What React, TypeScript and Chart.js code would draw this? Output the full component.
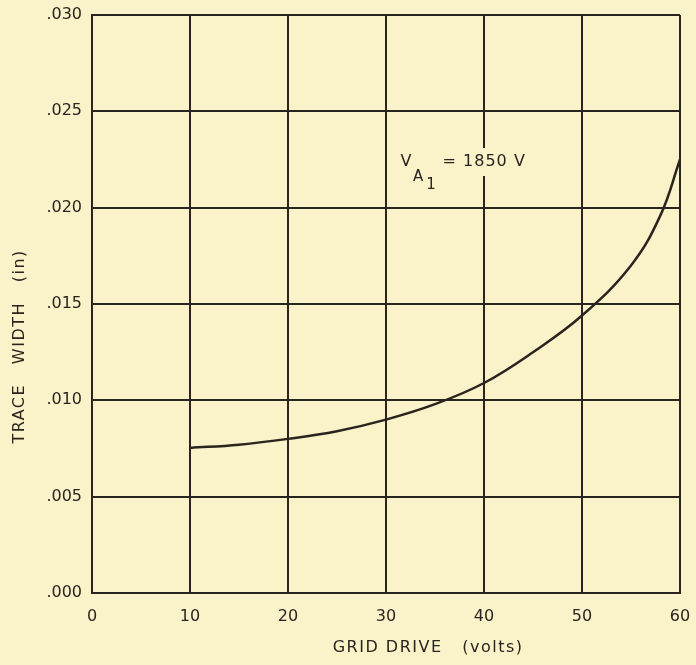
import React, { useEffect, useRef } from "react";
import { Chart, registerables } from "chart.js";

Chart.register(...registerables);

const gridDrive = [10, 15, 20, 25, 30, 35, 40, 45, 50, 55, 58, 60];
const traceWidth = [0.00753, 0.0077, 0.008, 0.0084, 0.009, 0.0098, 0.0109, 0.0125, 0.0144, 0.017, 0.0196, 0.0225];
const xTicks = [0, 10, 20, 30, 40, 50, 60];
const yTicks = [0, 0.005, 0.01, 0.015, 0.02, 0.025, 0.03];
const xTitle = "GRID DRIVE   (volts)";
const yTitle = "TRACE   WIDTH   (in)";
const noteMain = "V";
const noteSubA = "A";
const noteSub1 = "1";
const noteRest = "= 1850 V";

const BG = "#faf2c9";
const INK = "#2a241f";
const FONT = '"DejaVu Sans", sans-serif';

export default function App() {
  const ref = useRef<HTMLCanvasElement | null>(null);

  useEffect(() => {
    document.body.style.margin = "0";
    document.body.style.background = BG;
    const canvas = ref.current!;
    const textPlugin = {
      id: "texts",
      beforeDraw(chart: any) {
        const c = chart.ctx;
        c.save();
        c.fillStyle = BG;
        c.fillRect(0, 0, chart.width, chart.height);
        c.restore();
      },
      afterDraw(chart: any) {
        const c = chart.ctx;
        const xs = chart.scales.x;
        const ys = chart.scales.y;
        c.save();
        c.fillStyle = INK;
        c.font = `16px ${FONT}`;
        c.textBaseline = "middle";
        (c as any).letterSpacing = "1.5px";
        // x title
        c.textAlign = "center";
        c.fillText(xTitle, xs.getPixelForValue(34.3), 648);
        // y title
        c.save();
        c.translate(20, ys.getPixelForValue(0.0128));
        c.rotate(-Math.PI / 2);
        c.fillText(yTitle, 0, 0);
        c.restore();
        // annotation
        (c as any).letterSpacing = "1px";
        const ax = xs.getPixelForValue(32.1);
        const ay = ys.getPixelForValue(0.02237);
        c.fillStyle = BG;
        c.fillRect(ax + 32, ay - 14, 86, 28);
        c.fillStyle = INK;
        c.textAlign = "center";
        c.fillText(noteMain, ax, ay);
        c.font = `15px ${FONT}`;
        c.fillText(noteSubA, ax + 12, ay + 15);
        c.fillText(noteSub1, ax + 25, ay + 23);
        c.font = `16px ${FONT}`;
        c.textAlign = "left";
        c.fillText(noteRest, ax + 36, ay);
        c.restore();
      },
    };

    const chart = new Chart(canvas, {
      type: "line",
      data: {
        datasets: [
          {
            data: gridDrive.map((x, i) => ({ x, y: traceWidth[i] })),
            borderColor: INK,
            borderWidth: 2.5,
            pointRadius: 0,
            tension: 0.4,
            fill: false,
          },
        ],
      },
      options: {
        animation: false,
        responsive: true,
        maintainAspectRatio: false,
        layout: { padding: { top: 15, right: 16, left: 0, bottom: 0 } },
        plugins: { legend: { display: false }, tooltip: { enabled: false } },
        scales: {
          x: {
            type: "linear",
            min: 0,
            max: 60,
            afterBuildTicks: (s: any) => {
              s.ticks = xTicks.map((v) => ({ value: v }));
            },
            afterFit: (s: any) => {
              s.height = 72;
              s.paddingLeft = 0;
              s.paddingRight = 0;
            },
            ticks: {
              color: INK,
              font: { family: FONT, size: 16 },
              padding: 14,
              maxRotation: 0,
              callback: (v: any) => String(v),
            },
            grid: { color: INK, lineWidth: 2, drawTicks: false },
            border: { display: true, color: INK, width: 2 },
          },
          y: {
            type: "linear",
            min: 0,
            max: 0.03,
            afterBuildTicks: (s: any) => {
              s.ticks = yTicks.map((v) => ({ value: v }));
            },
            afterFit: (s: any) => {
              s.width = 92;
              s.paddingTop = 0;
              s.paddingBottom = 0;
            },
            ticks: {
              color: INK,
              font: { family: FONT, size: 16 },
              padding: 10,
              callback: (v: any) => Number(v).toFixed(3).replace(/^0/, ""),
            },
            grid: { color: INK, lineWidth: 2, drawTicks: false },
            border: { display: true, color: INK, width: 2 },
          },
        },
      },
      plugins: [textPlugin],
    } as any);
    return () => chart.destroy();
  }, []);

  return (
    <div style={{ width: 696, height: 665, position: "relative", background: BG }}>
      <canvas ref={ref} />
    </div>
  );
}
